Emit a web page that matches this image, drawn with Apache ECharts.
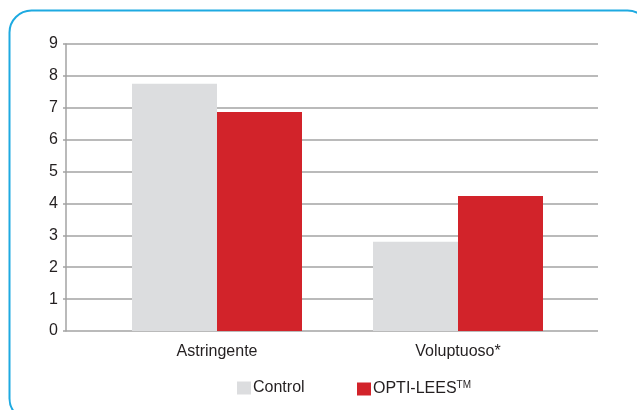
<!DOCTYPE html>
<html><head><meta charset="utf-8">
<script src="https://cdn.jsdelivr.net/npm/echarts@6/dist/echarts.min.js"></script>
<style>html,body{margin:0;padding:0;background:#fff}#c{width:637px;height:410px}</style>
</head><body><div id="c"></div>
<script>
const categories = ['Astringente', 'Voluptuoso*'];
const controlValues = [7.75, 2.8];
const optiValues = [6.87, 4.23];
const yTicks = [0, 1, 2, 3, 4, 5, 6, 7, 8, 9];
const seriesNames = ['Control', 'OPTI-LEES'];

const FONT = '"Liberation Sans", Arial, sans-serif';
const TXT = '#231F20';
const chart = echarts.init(document.getElementById('c'), null, {renderer: 'canvas'});
const yMin = yTicks[0], yMax = yTicks[yTicks.length - 1];
const legendBase = {
  top: 375, orient: 'horizontal',
  itemWidth: 14, itemHeight: 13, icon: 'rect',
  textStyle: {color: TXT, fontSize: 16, fontFamily: FONT, padding: [0, 0, 0, -3],
    rich: {sup: {fontSize: 10, verticalAlign: 'top', padding: [0, 0, 8, 0], fontFamily: FONT, color: TXT}}},
  formatter: function (n) { return n === 'OPTI-LEES' ? 'OPTI-LEES{sup|TM}' : n; }
};
chart.setOption({
  animation: false,
  textStyle: {fontFamily: FONT},
  graphic: [{
    type: 'rect', z: -10,
    shape: {x: 9.5, y: 10.5, width: 640, height: 410, r: 22},
    style: {fill: 'none', stroke: '#1EAAE1', lineWidth: 2}
  }],
  grid: [
    {left: 66, right: 39, top: 44, bottom: 79},
    {left: 96.5, right: 58.5, top: 44, bottom: 79}
  ],
  xAxis: [
    {gridIndex: 0, type: 'category', data: categories, axisLine: {show: false}, axisTick: {show: false}, axisLabel: {show: false}},
    {gridIndex: 1, type: 'category', data: categories,
      axisLine: {show: false}, axisTick: {show: false},
      axisLabel: {color: TXT, fontSize: 16, fontFamily: FONT, margin: 13}}
  ],
  yAxis: [
    {gridIndex: 0, type: 'value', min: yMin, max: yMax, interval: 1,
      axisLine: {show: true, lineStyle: {color: '#A3A3A3', width: 1.5}},
      axisTick: {show: true, length: 3, lineStyle: {color: '#A3A3A3', width: 1.5}},
      axisLabel: {color: TXT, fontSize: 16, fontFamily: FONT, margin: 8},
      splitLine: {show: true, lineStyle: {color: '#A3A3A3', width: 1.5}}},
    {gridIndex: 1, type: 'value', min: yMin, max: yMax, interval: 1, show: false, splitLine: {show: false}}
  ],
  legend: [
    Object.assign({}, legendBase, {left: 232, data: [seriesNames[0]]}),
    Object.assign({}, legendBase, {left: 352, data: [seriesNames[1]]})
  ],
  series: [
    {name: seriesNames[0], type: 'bar', xAxisIndex: 1, yAxisIndex: 1, data: controlValues,
      barWidth: 85, barGap: '0%', itemStyle: {color: '#DCDDDF'}},
    {name: seriesNames[1], type: 'bar', xAxisIndex: 1, yAxisIndex: 1, data: optiValues,
      barWidth: 85, barGap: '0%', itemStyle: {color: '#D2232A'}}
  ]
});
</script></body></html>
